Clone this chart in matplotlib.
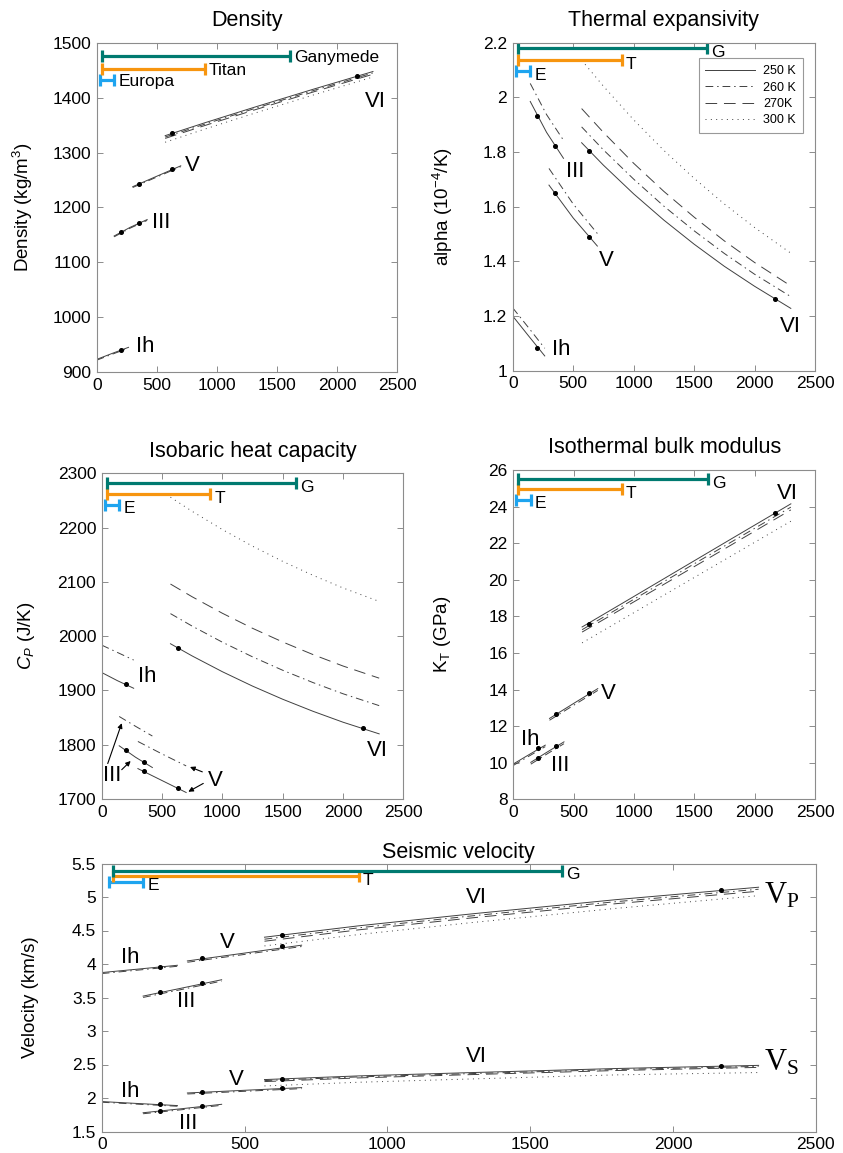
import matplotlib
matplotlib.use('Agg')
import matplotlib.pyplot as plt
from matplotlib.lines import Line2D

plt.rcParams['font.family'] = ['Liberation Sans', 'DejaVu Sans']
plt.rcParams['mathtext.fontset'] = 'custom'
plt.rcParams['mathtext.rm'] = 'Liberation Sans'
plt.rcParams['mathtext.it'] = 'Liberation Sans:italic'

# ---------------------------------------------------------------- data
# pressure grids (MPa) of each ice phase
P_IH = [0, 130, 265]
P_III = [145, 280, 420]
P_V = [300, 500, 700]
P_VI = [570, 900, 1300, 1800, 2300]
P_VI_FINE = [570, 750, 1000, 1250, 1500, 1750, 2000, 2300]

# pressures of the reference points on the 250 K curves
DOT_IH = [205]
DOT_III = [205, 350]
DOT_V = [350, 630]
DOT_VI = [630, 2170]

TEMP_LABELS = {250: '250 K', 260: '260 K', 270: '270K', 300: '300 K'}

# pressure ranges of the icy moons (MPa)
EUROPA_P = [25, 145]
TITAN_P = [40, 900]
GANYMEDE_P = [40, 1610]

# density (kg/m^3)
RHO_IH = {250: [923, 934, 945], 260: [921.5, 932.5, 943.5]}
RHO_III = {250: [1148, 1164, 1178], 260: [1146.5, 1162.5, 1176.5]}
RHO_V = {250: [1238, 1257, 1276], 260: [1236.5, 1255.5, 1274.5]}
RHO_VI = {250: [1331, 1354.5, 1382, 1415.5, 1448],
          260: [1328.5, 1352, 1379.5, 1413, 1445.5],
          270: [1326, 1349.5, 1377, 1410.5, 1443],
          300: [1319, 1343, 1371, 1405, 1438]}
RHO_DOTS = {'Ih': [941], 'III': [1155, 1172], 'V': [1243, 1271], 'VI': [1335, 1440]}
RHO_BARS = [1433, 1453, 1477]  # Europa, Titan, Ganymede

# thermal expansivity (1e-4 / K)
ALPHA_IH = {250: [1.200, 1.128, 1.054], 260: [1.230, 1.158, 1.082]}
ALPHA_III = {250: [1.985, 1.872, 1.777], 260: [2.051, 1.937, 1.843]}
ALPHA_V = {250: [1.679, 1.559, 1.456], 260: [1.740, 1.610, 1.502]}
ALPHA_VI = {250: [1.834, 1.752, 1.647, 1.551, 1.463, 1.382, 1.309, 1.228],
            260: [1.892, 1.808, 1.701, 1.602, 1.512, 1.429, 1.353, 1.271],
            270: [1.959, 1.872, 1.759, 1.656, 1.562, 1.475, 1.396, 1.310],
            300: [2.136, 2.041, 1.918, 1.806, 1.704, 1.610, 1.524, 1.430]}
ALPHA_DOTS = {'Ih': [1.082], 'III': [1.932, 1.823], 'V': [1.649, 1.490], 'VI': [1.804, 1.261]}
ALPHA_BARS = [2.097, 2.136, 2.179]

# isobaric heat capacity (J/K)
CP_IH = {250: [1933, 1918, 1904], 260: [1983.5, 1970, 1956]}
CP_III = {250: [1798, 1777, 1758], 260: [1852, 1834, 1816]}
CP_V = {250: [1756, 1734, 1712], 260: [1806, 1783, 1761]}
CP_VI = {250: [1986, 1963.5, 1934.5, 1908.0, 1883.8, 1861.7, 1841.5, 1820],
         260: [2041.5, 2018.5, 1988.9, 1961.9, 1937.2, 1914.6, 1893.9, 1872],
         270: [2096, 2072.5, 2042.2, 2014.5, 1989.3, 1966.2, 1945.0, 1922.6],
         300: [2256, 2229.9, 2196.4, 2165.8, 2137.8, 2112.2, 2088.8, 2064]}
CP_DOTS = {'Ih': [1911.6], 'III': [1790, 1768], 'V': [1751, 1721], 'VI': [1978, 1830]}
CP_BARS = [2242, 2262, 2282]

# isothermal bulk modulus (GPa)
KT_IH = {250: [9.93, 10.44, 10.96], 260: [9.85, 10.36, 10.88]}
KT_III = {250: [10.02, 10.58, 11.14], 260: [9.92, 10.48, 11.04]}
KT_V = {250: [12.42, 13.24, 14.05], 260: [12.32, 13.14, 13.95]}
KT_VI = {250: [17.42, 18.70, 20.26, 22.21, 24.15],
         260: [17.27, 18.55, 20.10, 22.04, 23.97],
         270: [17.14, 18.41, 19.95, 21.88, 23.82],
         300: [16.55, 17.82, 19.36, 21.28, 23.20]}
KT_DOTS = {'Ih': [10.78], 'III': [10.28, 10.89], 'V': [12.65, 13.82], 'VI': [17.60, 23.64]}
KT_BARS = [24.37, 24.97, 25.51]

# seismic velocities (km/s)
VP_IH = {250: [3.872, 3.925, 3.981], 260: [3.857, 3.910, 3.966]}
VP_III = {250: [3.521, 3.640, 3.765], 260: [3.501, 3.620, 3.745]}
VP_V = {250: [4.046, 4.163, 4.281], 260: [4.026, 4.143, 4.261]}
VP_VI = {250: [4.40, 4.57, 4.75, 4.96, 5.146],
         260: [4.37, 4.54, 4.72, 4.93, 5.116],
         270: [4.34, 4.51, 4.69, 4.90, 5.086],
         300: [4.27, 4.44, 4.62, 4.83, 5.020]}
VP_DOTS = {'Ih': [3.962], 'III': [3.587, 3.711], 'V': [4.097, 4.262], 'VI': [4.431, 5.106]}

VS_IH = {250: [1.947, 1.917, 1.887], 260: [1.937, 1.907, 1.877]}
VS_III = {250: [1.780, 1.840, 1.906], 260: [1.765, 1.825, 1.891]}
VS_V = {250: [2.075, 2.115, 2.155], 260: [2.060, 2.100, 2.140]}
VS_VI = {250: [2.275, 2.330, 2.380, 2.440, 2.487],
         260: [2.260, 2.315, 2.365, 2.425, 2.472],
         270: [2.245, 2.300, 2.350, 2.410, 2.457],
         300: [2.180, 2.235, 2.285, 2.345, 2.380]}
VS_DOTS = {'Ih': [1.907], 'III': [1.810, 1.875], 'V': [2.085, 2.142], 'VI': [2.287, 2.472]}
VEL_BARS = [5.23, 5.31, 5.395]

# ---------------------------------------------------------------- styling
LINE_COLOR = '0.25'
LW = 0.7
STYLES = {250: '-', 260: (0, (8, 4, 1.5, 4)), 270: (0, (12, 7)), 300: (0, (1, 4.5))}
MOON_COLORS = {'Europa': '#1ea4ef', 'Titan': '#f7950f', 'Ganymede': '#007a70'}
SPINE = '0.55'

PHASE_DOTS = {'Ih': DOT_IH, 'III': DOT_III, 'V': DOT_V, 'VI': DOT_VI}

W, H = 843, 1153
fig = plt.figure(figsize=(W / 100, H / 100), dpi=100)


def make_axes(l, t, r, b):
    return fig.add_axes([l / W, 1 - b / H, (r - l) / W, (b - t) / H])


def style_axes(ax, ylim, yticks, yticklabels, ylabel, label_x):
    ax.set_xlim(0, 2500)
    ax.set_xticks([0, 500, 1000, 1500, 2000, 2500])
    ax.set_ylim(*ylim)
    ax.set_yticks(yticks)
    ax.set_yticklabels(yticklabels)
    ax.tick_params(direction='in', top=True, right=True, length=4, width=0.7,
                   color=SPINE, labelsize=12.5, pad=4)
    for s in ax.spines.values():
        s.set_color(SPINE)
        s.set_linewidth(0.8)
    ax.set_ylabel(ylabel, fontsize=13.5, va='center')
    ax.yaxis.set_label_coords(label_x, 0.5)


def draw_phases(ax, curves, dots):
    for phase, (P, temps) in curves.items():
        for T, vals in temps.items():
            ax.plot(P, vals, color=LINE_COLOR, lw=LW, ls=STYLES[T])
        ax.plot(PHASE_DOTS[phase], dots[phase], ls='none', marker='o',
                ms=2.6, color='k')


def draw_moons(ax, bar_y, names, dx=3, dy=-1.5):
    for key, P, y in zip(['Europa', 'Titan', 'Ganymede'],
                         [EUROPA_P, TITAN_P, GANYMEDE_P], bar_y):
        c = MOON_COLORS[key]
        ax.plot(P, [y, y], color=c, lw=2.3, solid_capstyle='butt')
        ax.plot(P, [y, y], ls='none', marker='|', ms=9, mew=2.3, color=c)
        ax.annotate(names[key], xy=(P[1], y), xytext=(dx, dy),
                    textcoords='offset points', va='center', ha='left',
                    fontsize=12.5)


def phase_labels(ax, items, size=16):
    for txt, x, y in items:
        ax.text(x, y, txt, fontsize=size, ha='center', va='center')


SHORT = {'Europa': 'E', 'Titan': 'T', 'Ganymede': 'G'}
LONG = {'Europa': 'Europa', 'Titan': 'Titan', 'Ganymede': 'Ganymede'}

# ---------------------------------------------------------------- density
ax1 = make_axes(96.7, 43, 397, 372)
draw_phases(ax1, {'Ih': (P_IH, RHO_IH), 'III': (P_III, RHO_III),
                  'V': (P_V, RHO_V), 'VI': (P_VI, RHO_VI)}, RHO_DOTS)
draw_moons(ax1, RHO_BARS, LONG, dy=-1)
phase_labels(ax1, [('Ih', 403, 947), ('III', 538, 1172), ('V', 796, 1277.5),
                   ('VI', 2317, 1393)])
style_axes(ax1, (900, 1500), range(900, 1501, 100),
           [str(v) for v in range(900, 1501, 100)],
           r'Density (kg/m$\mathregular{^3}$)', -0.245)
ax1.set_title('Density', fontsize=15.5, pad=12)

# ---------------------------------------------------------------- alpha
ax2 = make_axes(512.7, 42.7, 815, 370.7)
draw_phases(ax2, {'Ih': (P_IH, ALPHA_IH), 'III': (P_III, ALPHA_III),
                  'V': (P_V, ALPHA_V), 'VI': (P_VI_FINE, ALPHA_VI)}, ALPHA_DOTS)
draw_moons(ax2, ALPHA_BARS, SHORT, dy=-3)
phase_labels(ax2, [('III', 515, 1.728), ('V', 772, 1.405), ('VI', 2299, 1.161),
                   ('Ih', 405, 1.076)])
style_axes(ax2, (1, 2.2), [1, 1.2, 1.4, 1.6, 1.8, 2, 2.2],
           ['1', '1.2', '1.4', '1.6', '1.8', '2', '2.2'],
           r'alpha (10$\mathregular{^{-4}}$/K)', -0.231)
ax2.set_title('Thermal expansivity', fontsize=15.5, pad=12)
handles = [Line2D([], [], color=LINE_COLOR, lw=LW, ls=STYLES[T]) for T in TEMP_LABELS]
leg = ax2.legend(handles, list(TEMP_LABELS.values()), loc='upper right',
                 bbox_to_anchor=(0.959, 0.952), fontsize=9, handlelength=4.0,
                 frameon=True, fancybox=False, borderpad=0.55, labelspacing=0.35,
                 handletextpad=0.6, borderaxespad=0)
leg.get_frame().set_edgecolor('0.5')
leg.get_frame().set_linewidth(0.8)

# ---------------------------------------------------------------- heat capacity
ax3 = make_axes(101.7, 473.3, 403.3, 799)
draw_phases(ax3, {'Ih': (P_IH, CP_IH), 'III': (P_III, CP_III),
                  'V': (P_V, CP_V), 'VI': (P_VI_FINE, CP_VI)}, CP_DOTS)
draw_moons(ax3, CP_BARS, SHORT, dy=-3)
phase_labels(ax3, [('Ih', 378, 1925), ('VI', 2285, 1789.6)])
arrow = dict(arrowstyle='-|>', lw=0.8, color='k', mutation_scale=7,
             shrinkA=0, shrinkB=0)
ax3.text(83, 1744, 'III', fontsize=16, ha='center', va='center')
ax3.annotate('', xy=(166, 1839.6), xytext=(50, 1765.3), arrowprops=arrow)
ax3.annotate('', xy=(240, 1770), xytext=(166, 1754), arrowprops=arrow)
ax3.text(939, 1735, 'V', fontsize=16, ha='center', va='center')
ax3.annotate('', xy=(732, 1759), xytext=(834, 1750), arrowprops=arrow)
ax3.annotate('', xy=(718, 1713.4), xytext=(842, 1728.7), arrowprops=arrow)
style_axes(ax3, (1700, 2300), range(1700, 2301, 100),
           [str(v) for v in range(1700, 2301, 100)],
           r'$C_P$ (J/K)', -0.25)
ax3.set_title('Isobaric heat capacity', fontsize=15.5, pad=12)

# ---------------------------------------------------------------- bulk modulus
ax4 = make_axes(513.3, 470, 815, 799.3)
draw_phases(ax4, {'Ih': (P_IH, KT_IH), 'III': (P_III, KT_III),
                  'V': (P_V, KT_V), 'VI': (P_VI, KT_VI)}, KT_DOTS)
draw_moons(ax4, KT_BARS, SHORT, dy=-3)
phase_labels(ax4, [('VI', 2270, 24.73), ('V', 787, 13.78), ('Ih', 138, 11.27),
                   ('III', 387, 9.87)])
style_axes(ax4, (8, 26), range(8, 27, 2), [str(v) for v in range(8, 27, 2)],
           r'K$\mathregular{_T}$ (GPa)', -0.236)
ax4.set_title('Isothermal bulk modulus', fontsize=15.5, pad=12)

# ---------------------------------------------------------------- seismic velocity
ax5 = make_axes(101.7, 863.5, 815.7, 1131.5)
draw_phases(ax5, {'Ih': (P_IH, VP_IH), 'III': (P_III, VP_III),
                  'V': (P_V, VP_V), 'VI': (P_VI, VP_VI)}, VP_DOTS)
draw_phases(ax5, {'Ih': (P_IH, VS_IH), 'III': (P_III, VS_III),
                  'V': (P_V, VS_V), 'VI': (P_VI, VS_VI)}, VS_DOTS)
draw_moons(ax5, VEL_BARS, SHORT, dy=-3)
phase_labels(ax5, [('Ih', 99, 4.097), ('Ih', 99, 2.097), ('III', 295, 3.446),
                   ('III', 303, 1.623), ('V', 440, 4.32), ('V', 470, 2.272),
                   ('VI', 1313, 4.996), ('VI', 1313, 2.621)])
for txt, y in [(r'$\mathregular{V_P}$', 5.02), (r'$\mathregular{V_S}$', 2.52)]:
    ax5.text(2381, y, txt, fontsize=22, ha='center', va='center',
             family='Liberation Serif')
style_axes(ax5, (1.5, 5.5), [1.5, 2, 2.5, 3, 3.5, 4, 4.5, 5, 5.5],
           ['1.5', '2', '2.5', '3', '3.5', '4', '4.5', '5', '5.5'],
           'Velocity (km/s)', -0.100)
ax5.set_title('Seismic velocity', fontsize=15.5, pad=4)

fig.savefig('out.png', dpi=100)
